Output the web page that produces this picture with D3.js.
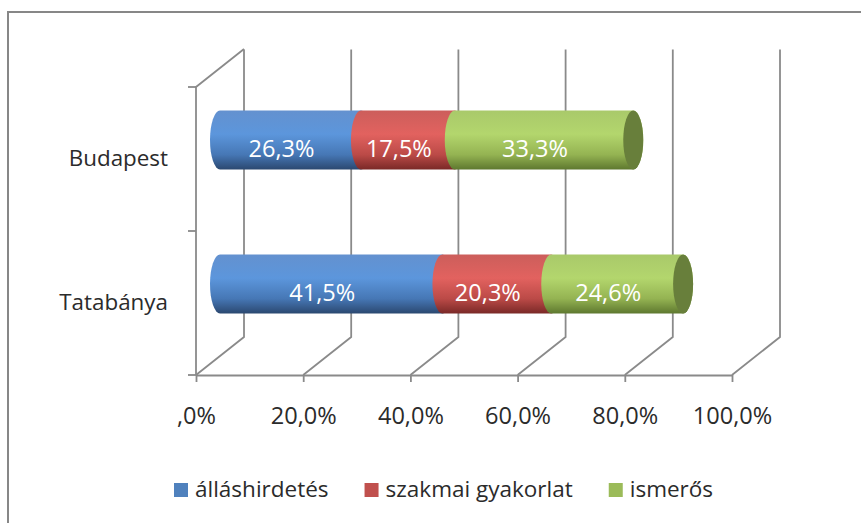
<!DOCTYPE html>
<html>
<head>
<meta charset="utf-8">
<script src="https://cdn.jsdelivr.net/npm/d3@7"></script>
<style>
  body { margin: 0; background: #fff; }
  text { font-family: "Open Sans", sans-serif; fill: #2b2b2b; }
</style>
</head>
<body>
<svg id="chart"></svg>
<script>
const categories = ["Budapest", "Tatabánya"];
const seriesNames = ["álláshirdetés", "szakmai gyakorlat", "ismerős"];
const budapestValues = [26.3, 17.5, 33.3];
const tatabanyaValues = [41.5, 20.3, 24.6];
const tickValues = [0, 20, 40, 60, 80, 100];
const tickLabels = [",0%", "20,0%", "40,0%", "60,0%", "80,0%", "100,0%"];
const seriesColors = ["#4F81BD", "#C0504D", "#9BBB59"];

const rows = [budapestValues, tatabanyaValues];

const width = 861, height = 523;
const floorY = 375, topY = 87;
// depth of the 3d box
const depthX = 48, depthY = -38;
const gridColor = "#8a8a8a";

const svg = d3.select("#chart")
    .attr("width", width)
    .attr("height", height);

// number labels in the picture are a bit taller than wide, fit them
const probe = svg.append("text").style("font-size", "20px").text("20,0%");
const numSize = 20 * 66 / probe.node().getComputedTextLength();
probe.remove();
const numStretch = 17 / (0.714 * numSize);

const x = d3.scaleLinear()
    .domain([0, 100])
    .range([196, 732]);

const y = d3.scaleBand()
    .domain(categories)
    .range([topY, floorY]);

// gradients for the cylinders
const shades = {
    "#4F81BD": ["#6391cf", "#5c96dc", "#4677b5", "#2b4870"],
    "#C0504D": ["#cc5e5b", "#e2625f", "#bb4a47", "#7a2927"],
    "#9BBB59": ["#a9c96a", "#b3d66d", "#94b352", "#5e782f"]
};
const defs = svg.append("defs");
seriesColors.forEach((c, i) => {
    const g = defs.append("linearGradient")
        .attr("id", "grad" + i)
        .attr("x1", 0).attr("y1", 0).attr("x2", 0).attr("y2", 1);
    [0, 0.4, 0.75, 1].forEach((o, k) => {
        g.append("stop").attr("offset", o).attr("stop-color", shades[c][k]);
    });
});

// chart area border (only top and left are in the picture)
svg.append("path")
    .attr("d", `M8,${height} L8,12 L${width},12`)
    .attr("fill", "none")
    .attr("stroke", "#878787")
    .attr("stroke-width", 2);

// back wall and floor grid
const grid = svg.append("g")
    .attr("stroke", gridColor)
    .attr("stroke-width", 1.8)
    .attr("fill", "none");

tickValues.forEach(v => {
    grid.append("path")
        .attr("d", `M${x(v)},${floorY} L${x(v) + depthX},${floorY + depthY} L${x(v) + depthX},${topY + depthY + 0.5}`);
});
// left wall
grid.append("path")
    .attr("d", `M${x(0)},${floorY} L${x(0)},${topY} L${x(0) + depthX},${topY + depthY}`);

// category boundary ticks on the left wall
const bounds = categories.map(c => y(c)).concat([floorY]);
grid.selectAll(".ctick")
    .data(bounds)
    .enter().append("line")
    .attr("x1", x(0) - 8)
    .attr("x2", x(0))
    .attr("y1", d => d)
    .attr("y2", d => d);

// X-axis
const xAxis = svg.append("g")
    .attr("transform", `translate(0,${floorY})`)
    .call(d3.axisBottom(x)
        .tickValues(tickValues)
        .tickFormat((d, i) => tickLabels[i])
        .tickSize(7)
        .tickSizeOuter(0));
xAxis.select(".domain").attr("stroke", gridColor).attr("stroke-width", 1.8);
xAxis.selectAll(".tick line").attr("stroke", gridColor).attr("stroke-width", 1.8);
xAxis.selectAll(".tick text")
    .attr("y", 0).attr("dy", 0)
    .attr("transform", `translate(0,49) scale(1,${numStretch})`)
    .style("font-family", "'Open Sans', sans-serif")
    .style("font-size", numSize + "px")
    .attr("fill", "#2b2b2b");

// Y-axis labels
const yAxis = svg.append("g")
    .attr("transform", `translate(${x(0)},0)`)
    .call(d3.axisLeft(y).tickSize(0).tickPadding(28));
yAxis.select(".domain").remove();
yAxis.selectAll(".tick text")
    .attr("dy", "0.33em")
    .style("font-family", "'Open Sans', sans-serif")
    .style("font-size", "22.4px")
    .attr("fill", "#2b2b2b");

// cylinders
const r = 29.5, rx = 10;
const bars = svg.append("g");
rows.forEach((vals, ci) => {
    const cy = y(categories[ci]) + y.bandwidth() / 2 + depthY / 2;
    let cum = 0;
    const segs = vals.map((v, i) => {
        const s = { i, v, x0: x(cum) + depthX / 2, x1: x(cum + v) + depthX / 2 };
        cum += v;
        return s;
    });
    bars.selectAll(null)
        .data(segs)
        .enter().append("path")
        .attr("d", s => `M${s.x0},${cy - r} L${s.x1},${cy - r} A${rx},${r} 0 0 1 ${s.x1},${cy + r} L${s.x0},${cy + r} A${rx},${r} 0 0 1 ${s.x0},${cy - r} Z`)
        .attr("fill", s => `url(#grad${s.i})`);
    const last = segs[segs.length - 1];
    bars.append("ellipse")
        .attr("cx", last.x1)
        .attr("cy", cy)
        .attr("rx", rx)
        .attr("ry", r)
        .attr("fill", "#687f3b");
    bars.selectAll(null)
        .data(segs)
        .enter().append("text")
        .attr("text-anchor", "middle")
        .attr("transform", s => `translate(${(s.x0 + s.x1) / 2 - 9},${cy + 17}) scale(1,${numStretch})`)
        .style("font-size", numSize + "px")
        .style("fill", "#fff")
        .text(s => s.v.toFixed(1).replace(".", ",") + "%");
});

// legend
const legend = svg.append("g");
let lx = 174;
seriesNames.forEach((name, i) => {
    legend.append("rect")
        .attr("x", lx).attr("y", 483)
        .attr("width", 14).attr("height", 14)
        .attr("fill", seriesColors[i]);
    const t = legend.append("text")
        .attr("x", lx + 21).attr("y", 497)
        .style("font-size", "22.5px")
        .text(name);
    lx += 21 + t.node().getComputedTextLength() + 36;
});
</script>
</body>
</html>
